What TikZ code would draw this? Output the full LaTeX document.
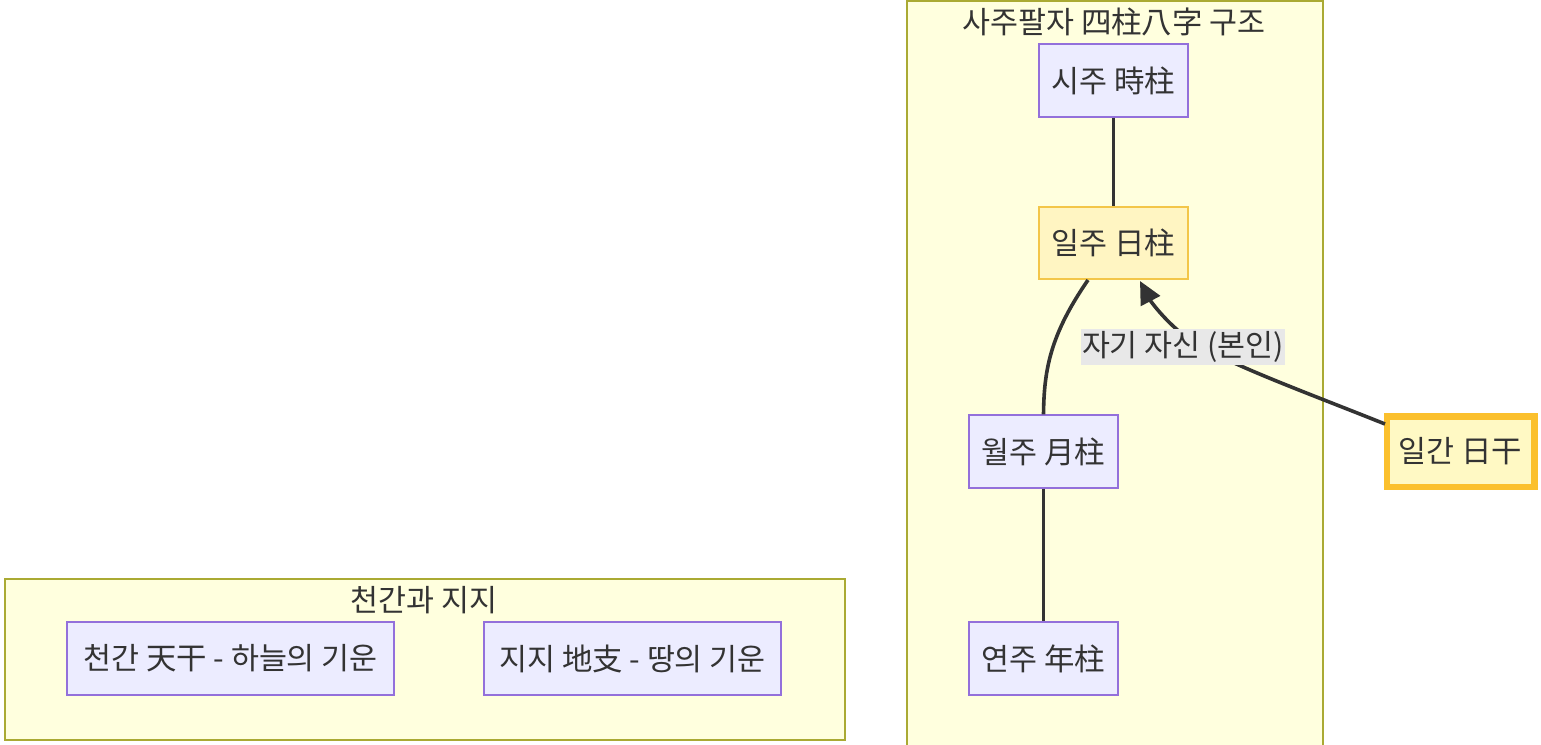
\documentclass[tikz,border=0pt]{standalone}
\usepackage{fontspec}
\setmainfont{Noto Sans CJK KR}
\usetikzlibrary{arrows.meta}
\definecolor{txt}{HTML}{333333}
\definecolor{clfill}{HTML}{FFFFDE}
\definecolor{clline}{HTML}{AAAA33}
\definecolor{nfill}{HTML}{ECECFF}
\definecolor{nline}{HTML}{9370DB}
\definecolor{dayfill}{HTML}{FFF5C2}
\definecolor{dayline}{HTML}{F3C649}
\definecolor{ganfill}{HTML}{FFF9C4}
\definecolor{ganline}{HTML}{FBC02D}
\definecolor{lblfill}{HTML}{E8E8E8}
\tikzset{
  x=0.75pt, y=-0.75pt,
  every node/.style={font=\fontsize{22.8}{27}\selectfont, text=txt},
  cluster/.style={draw=clline, fill=clfill, line width=1.5pt},
  pillar/.style={draw=nline, fill=nfill, line width=1.1pt, minimum height=54.75pt, inner sep=0pt},
  daybox/.style={draw=dayline, fill=dayfill, line width=1.1pt, minimum height=54pt, minimum width=111.75pt, inner sep=0pt},
  ganbox/.style={draw=ganline, fill=ganfill, line width=5pt, minimum height=53pt, minimum width=110.5pt, inner sep=0pt},
  link/.style={draw=txt, line width=2.7pt},
  lbl/.style={fill=lblfill, inner xsep=1pt, inner ysep=2pt, text=txt}
}
\begin{document}
\begin{tikzpicture}
\useasboundingbox (0,0) rectangle (1541,744);
% clusters
\begin{scope}
\clip (0,0) rectangle (1541,744);
\draw[cluster] (906.5,0.5) rectangle (1322.5,760);
\end{scope}
\node (t1) at (1114,22) {사주팔자 四柱八字 구조};
\draw[cluster] (4.5,578.5) rectangle (844.5,740);
\node (t2) at (424,600) {천간과 지지};
% nodes
\node[pillar, minimum width=111.75pt] (si) at (1113.5,80.5) {시주 時柱};
\node[daybox] (il) at (1113.5,243) {일주 日柱};
\node[pillar, minimum width=111.75pt] (wol) at (1043.5,451.5) {월주 月柱};
\node[pillar, minimum width=111.75pt] (yeon) at (1043.5,658.5) {연주 年柱};
\node[ganbox] (gan) at (1460.5,451.5) {일간 日干};
\node[pillar, minimum width=245.25pt] (cheon) at (230.5,658.5) {천간 天干 - 하늘의 기운};
\node[pillar, minimum width=222.75pt] (jiji) at (632.5,658.5) {지지 地支 - 땅의 기운};
% connectors
\coordinate (ilb1) at (1088,280);
\coordinate (ilb2) at (1140,281);
\coordinate (ganl) at (1385,424);
\coordinate (mid) at (1190,340);
\draw[link] (si.south) -- (si.south |- il.north);
\draw[link] (ilb1) .. controls (1050,335) and (1044,370) .. (wol.north);
\draw[link] (wol.south) -- (yeon.north);
\draw[link, -{Triangle[length=17pt,width=16pt]}] (ganl) .. controls (1300,390) and (1230,365) .. (mid) .. controls (1165,322) and (1150,300) .. (ilb2);
\node[lbl] (lab) at (1183,347) {자기 자신 (본인)};
\end{tikzpicture}
\end{document}
